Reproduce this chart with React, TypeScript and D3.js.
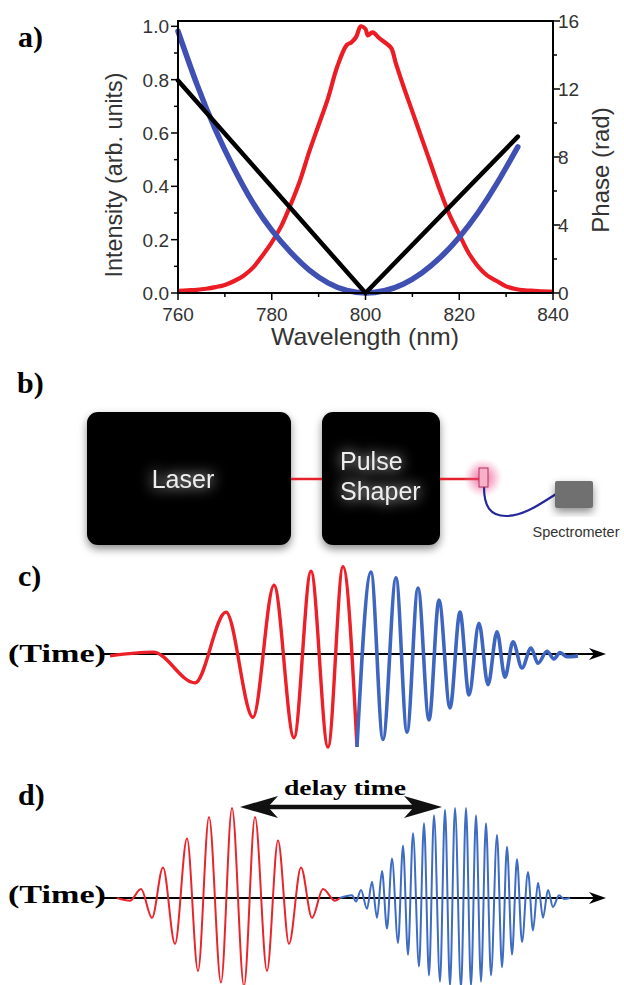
import React from "react";
import * as d3 from "d3";

// ---------- Panel a data ----------
const wavelengthTicks = [760, 780, 800, 820, 840];
const wavelengthMinor = [770, 790, 810, 830];
const intensityTicks = [0, 0.2, 0.4, 0.6, 0.8, 1.0];
const intensityMinor = [0.1, 0.3, 0.5, 0.7, 0.9];
const phaseTicks = [0, 4, 8, 12, 16];
const phaseMinor = [2, 6, 10, 14];

const spectrumWavelength = [760, 762, 764, 766, 768, 770, 772, 774, 776, 778, 780, 782, 784, 786, 788, 790, 792, 794, 796, 797, 798, 799, 800, 800.5, 801.5, 803, 804.5, 805.5, 806.5, 808, 810, 812, 814, 816, 818, 820, 822, 824, 826, 828, 830, 832, 834, 836, 838, 840];
const spectrumIntensity = [0.008, 0.01, 0.012, 0.016, 0.022, 0.03, 0.045, 0.065, 0.095, 0.14, 0.19, 0.25, 0.33, 0.42, 0.53, 0.63, 0.73, 0.85, 0.93, 0.94, 0.96, 1.0, 0.99, 0.966, 0.977, 0.955, 0.935, 0.918, 0.86, 0.78, 0.68, 0.58, 0.48, 0.38, 0.29, 0.22, 0.15, 0.1, 0.065, 0.045, 0.025, 0.015, 0.01, 0.008, 0.006, 0.005];

const quadWavelength = [760, 764, 768, 772, 776, 780, 784, 788, 792, 796, 800, 804, 808, 812, 816, 820, 824, 828, 832.5];
const quadPhase = [15.4, 12.3, 9.6, 7.3, 5.3, 3.7, 2.4, 1.35, 0.6, 0.15, 0, 0.13, 0.52, 1.18, 2.1, 3.28, 4.72, 6.43, 8.6];

const linWavelength = [760, 800, 832.5];
const linPhase = [12.5, 0, 9.2];

// ---------- Panel c data (chirped pulse, extrema) ----------
const chirpRedTime = [4, 47, 89, 120, 147, 168, 188, 205, 222, 237, 251];
const chirpRedAmp = [-0.02, 0.02, -0.31, 0.45, -0.68, 0.74, -0.9, 0.89, -1.0, 0.94, -1.0];
const chirpBlueTime = [251, 265, 277, 290, 301, 312, 323, 333, 344, 354, 363, 373, 382, 391, 399, 407, 416, 425, 432, 441, 448, 454, 461, 472];
const chirpBlueAmp = [-1.0, 0.88, -0.92, 0.82, -0.84, 0.71, -0.71, 0.58, -0.58, 0.45, -0.44, 0.33, -0.33, 0.24, -0.25, 0.13, -0.15, 0.065, -0.1, 0.03, -0.054, 0.016, -0.03, -0.02];

// ---------- Panel d data (two pulses, extrema) ----------
const pulseRedTime = [11, 24, 35, 46, 57, 69, 81, 92, 103, 115, 126, 138, 149, 161, 172, 183, 195, 206, 217, 229, 234];
const pulseRedAmp = [0, -0.03, 0.1, -0.22, 0.34, -0.51, 0.66, -0.81, 0.9, -0.94, 1.0, -0.98, 0.9, -0.81, 0.64, -0.51, 0.34, -0.22, 0.1, -0.03, 0];
const pulseBlueTime = [234, 246, 250, 255, 261, 266, 271, 276, 281, 286, 292, 297, 302, 307, 313, 318, 323, 328, 334, 339, 344, 349, 355, 360, 365, 370, 375, 380, 385, 391, 396, 401, 406, 411, 416, 422, 427, 432, 437, 442, 447, 453, 458, 464];
const pulseBlueAmp = [0, 0.03, -0.04, 0.09, -0.12, 0.18, -0.22, 0.3, -0.34, 0.44, -0.5, 0.58, -0.63, 0.72, -0.76, 0.83, -0.86, 0.92, -0.93, 0.98, -0.98, 1.0, -1.0, 1.0, -0.98, 0.92, -0.93, 0.83, -0.86, 0.7, -0.77, 0.57, -0.63, 0.43, -0.49, 0.29, -0.36, 0.17, -0.22, 0.09, -0.1, 0.03, -0.01, 0];

const serif = "'Liberation Serif', 'Times New Roman', serif";
const sans = "'Liberation Sans', Arial, sans-serif";

export default function App() {
  // Panel a scales
  const xA = d3.scaleLinear().domain([760, 840]).range([178, 553]);
  const yI = d3.scaleLinear().domain([0, 1.02]).range([293, 21]);
  const yP = d3.scaleLinear().domain([0, 16]).range([293, 21]);

  const spectrumLine = d3
    .line<number>()
    .x((_, i) => xA(spectrumWavelength[i]))
    .y((d) => yI(d))
    .curve(d3.curveCatmullRom)(spectrumIntensity);
  const quadLine = d3
    .line<number>()
    .x((_, i) => xA(quadWavelength[i]))
    .y((d) => yP(d))
    .curve(d3.curveNatural)(quadPhase);
  const linLine = d3
    .line<number>()
    .x((_, i) => xA(linWavelength[i]))
    .y((d) => yP(d))(linPhase);

  // Panels c, d scales
  const xT = d3.scaleLinear().domain([0, 500]).range([106, 606]);
  const yC = d3.scaleLinear().domain([-1, 1]).range([654 + 93, 654 - 93]);
  const yD = d3.scaleLinear().domain([-1, 1]).range([898 + 90, 898 - 90]);

  const wave = (ts: number[], as: number[], y: d3.ScaleLinear<number, number>) =>
    d3
      .line<number>()
      .x((_, i) => xT(ts[i]))
      .y((d) => y(d))
      .curve(d3.curveMonotoneX)(as) as string;

  const axisArrow = (yy: number) => {
    const tip = xT(500);
    return `M${tip},${yy} L${tip - 17},${yy - 6} L${tip - 12},${yy} L${tip - 17},${yy + 6} Z`;
  };

  return (
    <svg
      width={624}
      height={985}
      style={{ position: "absolute", left: 0, top: 0, background: "#fff" }}
    >
      <defs>
        <filter id="shadow" x="-20%" y="-20%" width="140%" height="150%">
          <feDropShadow dx="0" dy="4" stdDeviation="4" floodColor="#000" floodOpacity="0.45" />
        </filter>
        <filter id="glow" x="-30%" y="-60%" width="160%" height="220%">
          <feGaussianBlur in="SourceGraphic" stdDeviation="7" result="b" />
          <feMerge>
            <feMergeNode in="b" />
            <feMergeNode in="SourceGraphic" />
          </feMerge>
        </filter>
        <radialGradient id="pink">
          <stop offset="0%" stopColor="#e8347a" stopOpacity="0.75" />
          <stop offset="55%" stopColor="#ee5a93" stopOpacity="0.4" />
          <stop offset="100%" stopColor="#f7a0c0" stopOpacity="0" />
        </radialGradient>
      </defs>

      {/* ---------------- Panel a ---------------- */}
      <text x={18} y={47} fontFamily={serif} fontWeight="bold" fontSize={30}>a)</text>

      <path d={spectrumLine as string} fill="none" stroke="#ec1c24" strokeWidth={4.2} strokeLinejoin="round" />
      <path d={quadLine as string} fill="none" stroke="#4050b2" strokeWidth={5.5} strokeLinecap="round" />
      <path d={linLine as string} fill="none" stroke="#000" strokeWidth={4.5} strokeLinecap="round" />

      {/* frame */}
      <g stroke="#000" strokeWidth={2}>
        <line x1={178} x2={178} y1={21} y2={294} />
        <line x1={553} x2={553} y1={21} y2={294} />
        <line x1={177} x2={554} y1={293} y2={293} />
        <line x1={177} x2={554} y1={21} y2={21} />
      </g>
      <g stroke="#000" strokeWidth={1.5}>
        {intensityTicks.map((t) => (
          <line key={"il" + t} x1={171} x2={178} y1={yI(t)} y2={yI(t)} />
        ))}
        {intensityMinor.map((t) => (
          <line key={"ilm" + t} x1={174} x2={178} y1={yI(t)} y2={yI(t)} />
        ))}
        {phaseTicks.map((t) => (
          <line key={"pr" + t} x1={553} x2={560} y1={yP(t)} y2={yP(t)} />
        ))}
        {phaseMinor.map((t) => (
          <line key={"prm" + t} x1={553} x2={557} y1={yP(t)} y2={yP(t)} />
        ))}
        {wavelengthTicks.map((t) => (
          <line key={"wb" + t} x1={xA(t)} x2={xA(t)} y1={293} y2={300} />
        ))}
        {wavelengthMinor.map((t) => (
          <line key={"wbm" + t} x1={xA(t)} x2={xA(t)} y1={293} y2={297} />
        ))}
      </g>
      <g fontFamily={sans} fontSize={19} fill="#333">
        {intensityTicks.map((t) => (
          <text key={"ilt" + t} x={169} y={yI(t) + 7} textAnchor="end">
            {t.toFixed(1)}
          </text>
        ))}
        {phaseTicks.map((t) => (
          <text key={"prt" + t} x={558} y={yP(t) + 7}>
            {t}
          </text>
        ))}
        {wavelengthTicks.map((t) => (
          <text key={"wbt" + t} x={xA(t)} y={321} textAnchor="middle">
            {t}
          </text>
        ))}
      </g>
      <g fontFamily={sans} fill="#333">
        <text x={365} y={345} textAnchor="middle" fontSize={24} textLength={188} lengthAdjust="spacingAndGlyphs">Wavelength (nm)</text>
        <text transform="translate(122,175) rotate(-90)" textAnchor="middle" fontSize={24} textLength={205} lengthAdjust="spacingAndGlyphs">Intensity (arb. units)</text>
        <text transform="translate(609,170) rotate(-90)" textAnchor="middle" fontSize={24}>Phase (rad)</text>
      </g>

      {/* ---------------- Panel b ---------------- */}
      <text x={17} y={393} fontFamily={serif} fontWeight="bold" fontSize={30}>b)</text>
      <rect x={87} y={412} width={204} height={133} rx={11} fill="#000" filter="url(#shadow)" />
      <rect x={322} y={412} width={118} height={133} rx={11} fill="#000" filter="url(#shadow)" />
      <g stroke="#e4202a" strokeWidth={2.5}>
        <line x1={291} x2={322} y1={479} y2={479} />
        <line x1={440} x2={480} y1={479} y2={479} />
      </g>
      <g fontFamily={sans} fontSize={25} fill="#eeeeee" filter="url(#glow)">
        <text x={183} y={488} textAnchor="middle">Laser</text>
        <text x={340} y={470}>Pulse</text>
        <text x={340} y={500}>Shaper</text>
      </g>
      <circle cx={483} cy={478} r={20} fill="url(#pink)" />
      <path d="M484,487 C484,506 490,516 506,516 C524,516 540,504 556,494" fill="none" stroke="#26289a" strokeWidth={2.2} />
      <rect x={479} y={468} width={9} height={19} fill="#f6b0c8" stroke="#b03060" strokeWidth={1} />
      <rect x={555} y={481} width={38} height={27} rx={2} fill="#6f6f6f" filter="url(#shadow)" />
      <text x={576} y={537} fontFamily={sans} fontSize={14.5} fill="#333" textAnchor="middle">Spectrometer</text>

      {/* ---------------- Panel c ---------------- */}
      <text x={18} y={586} fontFamily={serif} fontWeight="bold" fontSize={30}>c)</text>
      <line x1={100} x2={xT(500) - 12} y1={654} y2={654} stroke="#000" strokeWidth={2.2} />
      <path d={axisArrow(654)} fill="#000" />
      <path d={wave(chirpRedTime, chirpRedAmp, yC)} fill="none" stroke="#ec2028" strokeWidth={3.4} />
      <path d={wave(chirpBlueTime, chirpBlueAmp, yC)} fill="none" stroke="#3e66c0" strokeWidth={3.6} />
      <text x={8} y={662} fontFamily={serif} fontWeight="bold" fontSize={26} textLength={98} lengthAdjust="spacingAndGlyphs">(Time)</text>

      {/* ---------------- Panel d ---------------- */}
      <text x={18} y={805} fontFamily={serif} fontWeight="bold" fontSize={30}>d)</text>
      <line x1={100} x2={xT(500) - 12} y1={898} y2={898} stroke="#000" strokeWidth={2.2} />
      <path d={axisArrow(898)} fill="#000" />
      <path d={wave(pulseRedTime, pulseRedAmp, yD)} fill="none" stroke="#e8252b" strokeWidth={2} />
      <path d={wave(pulseBlueTime, pulseBlueAmp, yD)} fill="none" stroke="#3e6cc2" strokeWidth={2} />
      <text x={8} y={903} fontFamily={serif} fontWeight="bold" fontSize={26} textLength={98} lengthAdjust="spacingAndGlyphs">(Time)</text>

      {/* delay arrow */}
      <line x1={265} x2={417} y1={807} y2={807} stroke="#111" strokeWidth={4.5} />
      <path d="M240,807 L278,796 L268,807 L278,818 Z" fill="#111" />
      <path d="M442,807 L404,796 L414,807 L404,818 Z" fill="#111" />
      <text x={345} y={795} fontFamily={serif} fontWeight="bold" fontSize={21} textAnchor="middle" textLength={122} lengthAdjust="spacingAndGlyphs">delay time</text>
    </svg>
  );
}
